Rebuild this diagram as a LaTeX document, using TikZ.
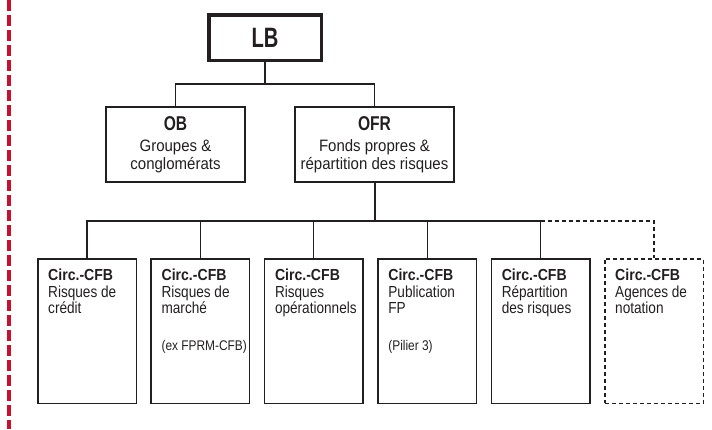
\documentclass[tikz,border=0pt]{standalone}
\usepackage{fontspec}
\setmainfont[FakeStretch=0.86]{Liberation Sans}
\newfontfamily\midf[FakeStretch=0.91]{Liberation Sans}
\newfontfamily\botf[FakeStretch=0.85]{Liberation Sans}
\newfontfamily\hdf[FakeStretch=0.78]{Liberation Sans}
\newfontfamily\lbf[FakeStretch=0.72]{Liberation Sans}
\newfontfamily\bcf[FakeStretch=0.88]{Liberation Sans}
\usetikzlibrary{calc}
\definecolor{ink}{HTML}{231F20}
\definecolor{redd}{HTML}{C8102E}
\tikzset{
  topbox/.style={draw=ink, line width=3.5pt, minimum width=112.5pt, minimum height=45.5pt, inner sep=0pt, text=ink},
  midbox/.style={draw=ink, line width=2pt, minimum height=75pt, inner sep=0pt, align=center, text=ink,
     font=\midf\fontsize{16.5}{18}\selectfont},
  cbox/.style={draw=ink, line width=1.5pt, minimum width=98.5pt, minimum height=144.5pt, inner sep=0pt},
  cboxd/.style={cbox, dash pattern=on 4pt off 3pt},
  ctext/.style={anchor=north west, inner sep=0pt, align=left, text=ink,
     font=\botf\fontsize{16}{16}\selectfont},
  conn/.style={draw=ink, line width=1.3pt}
}
\newcommand{\cfb}{{\bcf\bfseries Circ.-CFB}}
\begin{document}
\begin{tikzpicture}[x=1pt,y=-1pt]
\useasboundingbox (0,0) rectangle (712,429);
\draw[redd, line width=4pt, dash pattern=on 11pt off 4pt] (9,0) -- (9,429);

\node[topbox] (LB) at (265,37.5) {\lbf\bfseries\fontsize{28}{30}\selectfont LB};
\node[midbox, minimum width=139pt] (OB) at (175.5,144.5)
  {{\hdf\bfseries\fontsize{20}{21}\selectfont OB}\\[3pt]Groupes \&\\conglomérats};
\node[midbox, minimum width=159pt] (OFR) at (374.5,144.5)
  {{\hdf\bfseries\fontsize{20}{21}\selectfont OFR}\\[3pt]Fonds propres \&\\répartition des risques};

\node[cbox] (c1) at (87,331) {};
\node[cbox] (c2) at (200.4,331) {};
\node[cbox] (c3) at (313.8,331) {};
\node[cbox] (c4) at (427.2,331) {};
\node[cbox] (c5) at (540.6,331) {};
\node[cboxd] (c6) at (654,331) {};

\node[ctext] (t1) at ($(c1.north west)+(11,11)$) {\cfb\\[1pt]Risques de\\crédit};
\node[ctext] (t2) at ($(c2.north west)+(11,11)$) {\cfb\\[1pt]Risques de\\marché\\[21pt]{\fontsize{14}{16}\selectfont (ex FPRM-CFB)}};
\node[ctext] (t3) at ($(c3.north west)+(11,11)$) {\cfb\\[1pt]Risques\\opérationnels};
\node[ctext] (t4) at ($(c4.north west)+(11,11)$) {\cfb\\[1pt]Publication\\FP\\[21pt]{\fontsize{14}{16}\selectfont (Pilier 3)}};
\node[ctext] (t5) at ($(c5.north west)+(11,11)$) {\cfb\\[1pt]Répartition\\des risques};
\node[ctext] (t6) at ($(c6.north west)+(11,11)$) {\cfb\\[1pt]Agences de\\notation};

\coordinate (b1) at (265,84);
\draw[conn] (LB.south) -- (b1);
\draw[conn] (OB.north) -- (OB.north |- b1) -- (OFR.north |- b1) -- (OFR.north);

\coordinate (b2) at (374.5,221);
\draw[conn, line width=2pt] (OFR.south) -- (b2);
\draw[conn] (c1.north) -- (c1.north |- b2) -- (c5.north |- b2) -- (c5.north);
\draw[conn] (c2.north) -- (c2.north |- b2);
\draw[conn] (c3.north) -- (c3.north |- b2);
\draw[conn] (c4.north) -- (c4.north |- b2);
\draw[conn, dash pattern=on 4pt off 3pt] (c5.north |- b2) -- (c6.north |- b2) -- (c6.north);
\end{tikzpicture}
\end{document}
